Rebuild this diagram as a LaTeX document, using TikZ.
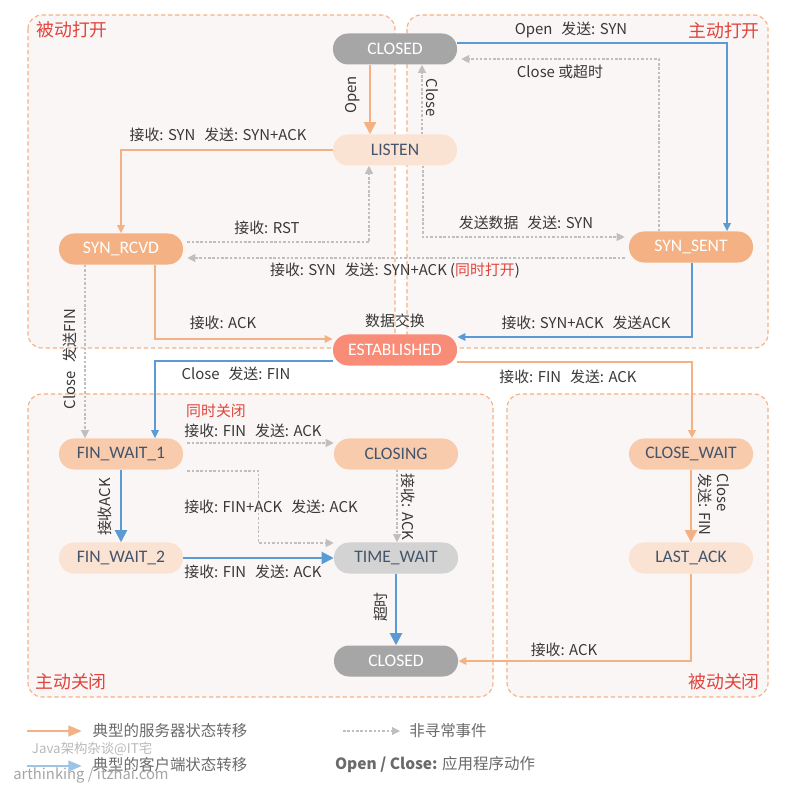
\documentclass[tikz,border=0pt]{standalone}
\usepackage{fontspec}
\setmainfont{Noto Sans CJK SC}
\newfontfamily\statefont{Carlito}
\usetikzlibrary{arrows.meta,calc}
\definecolor{srvorange}{HTML}{F4B183}
\definecolor{clientblue}{HTML}{5B9BD5}
\definecolor{legendblue}{HTML}{9DC3E6}
\definecolor{oddgray}{HTML}{BFBFBF}
\definecolor{deadgray}{HTML}{A6A6A6}
\definecolor{waitgray}{HTML}{D3D3D3}
\definecolor{palepeach}{HTML}{FBE3D4}
\definecolor{softpeach}{HTML}{F8CBAD}
\definecolor{livesalmon}{HTML}{F98C76}
\definecolor{regionfill}{HTML}{FAF6F5}
\definecolor{tagred}{HTML}{E0443C}
\definecolor{inktext}{HTML}{383838}
\definecolor{slatetext}{HTML}{44546A}
\newcommand{\lblgap}{\hspace{0.6em}}
\tikzset{
  state node/.style={rounded corners=0.38cm,minimum width=3.1cm,minimum height=0.775cm,inner sep=0pt,font=\statefont\fontsize{12.5}{14}\selectfont},
  dead state/.style={state node,fill=deadgray,text=white},
  warm state/.style={state node,fill=srvorange,text=white},
  live state/.style={state node,fill=livesalmon,text=white},
  soft state/.style={state node,fill=softpeach,text=slatetext},
  pale state/.style={state node,fill=palepeach,text=slatetext},
  wait state/.style={state node,fill=waitgray,text=slatetext},
  region/.style={draw=srvorange,fill=regionfill,line width=0.8pt,dash pattern=on 3pt off 2pt,rounded corners=0.35cm},
  region label/.style={text=tagred,font=\fontsize{12.7}{14}\selectfont,inner sep=0pt},
  edge label/.style={text=inktext,font=\fontsize{10.6}{12.5}\selectfont,inner sep=1pt},
  server edge/.style={srvorange,line width=1.5pt,-{Triangle[length=2mm,width=1.8mm]}},
  client edge/.style={clientblue,line width=1.5pt,-{Triangle[length=2mm,width=1.8mm]}},
  odd edge/.style={oddgray,line width=0.8pt,dash pattern=on 1.8pt off 1.3pt,-{Triangle[length=2mm,width=2mm]}},
  big head/.style={-{Triangle[length=3mm,width=3mm]}},
  legend text/.style={text=inktext!75,font=\fontsize{11}{13}\selectfont,inner sep=0pt},
  mark text/.style={text=gray!55,font=\fontsize{9.5}{11}\selectfont,inner sep=0pt},
}

\begin{document}
\begin{tikzpicture}[x=0.025cm,y=-0.025cm]
  \useasboundingbox (0,0) rectangle (800,786);
  \fill[white] (0,0) rectangle (800,786);

  \draw[region] (28,15) rectangle (395,348);
  \draw[region] (407,15) rectangle (768,348);
  \draw[region] (28,394) rectangle (493,697);
  \draw[region] (507,394) rectangle (768,697);
  \node[region label] (passiveopen) at (72,30) {被动打开};
  \node[region label] (activeopen) at (724,31) {主动打开};
  \node[region label] (activeclose) at (71,682) {主动关闭};
  \node[region label] (passiveclose) at (724,682) {被动关闭};

  \node[dead state] (closedtop) at (395,49) {CLOSED};
  \node[pale state] (listen) at (395,150) {LISTEN};
  \node[warm state] (synrcvd) at (121,249) {SYN\_RCVD};
  \node[warm state] (synsent) at (691,247) {SYN\_SENT};
  \node[live state] (estab) at (395,350) {ESTABLISHED};
  \node[soft state] (finwait1) at (121,454) {FIN\_WAIT\_1};
  \node[soft state] (closing) at (396,454) {CLOSING};
  \node[soft state] (closewait) at (691,454) {CLOSE\_WAIT};
  \node[pale state] (finwait2) at (121,558) {FIN\_WAIT\_2};
  \node[wait state] (timewait) at (396,558) {TIME\_WAIT};
  \node[pale state] (lastack) at (691,558) {LAST\_ACK};
  \node[dead state] (closedbot) at (396,661) {CLOSED};

  \draw[server edge,big head] ($(closedtop.south)+(-25,0)$) -- ($(listen.north)+(-25,0)$);
  \node[edge label,rotate=90] (lopen) at (353,95) {Open};
  \draw[odd edge] ($(listen.north)+(27,0)$) -- ($(closedtop.south)+(27,0)$);
  \node[edge label,rotate=-90] (lclose) at (432,98) {Close};
  \draw[client edge] ($(closedtop.east)+(0,-6)$) -| ($(synsent.north)+(36,0)$);
  \node[edge label] (lopensyn) at (571,30) {Open\lblgap 发送: SYN};
  \draw[odd edge] ($(synsent.north)+(-32,0)$) |- ($(closedtop.east)+(4,10)$);
  \node[edge label] (ltimeout) at (560,72) {Close 或超时};

  \draw[server edge] (listen.west) -| (synrcvd.north);
  \node[edge label] (lsynack) at (218,135) {接收: SYN\lblgap 发送: SYN+ACK};
  \draw[odd edge] ($(synrcvd.east)+(4,-7)$) -| ($(listen.south)+(-26,0)$);
  \node[edge label] (lrst) at (267,228) {接收: RST};
  \draw[odd edge] ($(listen.south)+(28,0)$) |- ($(synsent.west)+(-4,-10)$);
  \node[edge label] (lsenddata) at (526,223) {发送数据\lblgap 发送: SYN};
  \draw[odd edge] ($(synsent.west)+(-4,11)$) -- ($(synrcvd.east)+(4,9)$);
  \node[edge label] (lsimopen) at (395,271) {接收: SYN\lblgap 发送: SYN+ACK (\textcolor{tagred}{同时打开})};

  \draw[server edge] ($(synrcvd.south)+(34,0)$) |- ($(estab.west)+(0,-11)$);
  \node[edge label] (lack) at (223,323) {接收: ACK};
  \draw[client edge] ($(synsent.south)+(1,0)$) |- ($(estab.east)+(0,-13)$);
  \node[edge label] (lsynackack) at (586,323) {接收: SYN+ACK\lblgap 发送ACK};
  \node[edge label] (ldata) at (395,321) {数据交换};

  \draw[odd edge] ($(synrcvd.south)+(-36,0)$) -- ($(finwait1.north)+(-36,0)$);
  \node[edge label,rotate=90] (lclosefin) at (70,359) {Close\lblgap 发送FIN};
  \draw[client edge] ($(estab.west)+(0,11)$) -| ($(finwait1.north)+(34,0)$);
  \node[edge label] (lclosefin2) at (236,374) {Close\lblgap 发送: FIN};
  \draw[server edge] ($(estab.east)+(0,12)$) -| ($(closewait.north)+(1,0)$);
  \node[edge label] (lfinack) at (568,377) {接收: FIN\lblgap 发送: ACK};

  \draw[odd edge] ($(finwait1.east)+(4,-11)$) -- ($(closing.west)+(0,-11)$);
  \node[edge label,text=tagred] (lsimclose) at (216,411) {同时关闭};
  \node[edge label] (lfinack2) at (253,431) {接收: FIN\lblgap 发送: ACK};
  \draw[odd edge] ($(finwait1.east)+(4,17)$) -| ($(timewait.west)+(-75,-15)$) -- ($(timewait.west)+(0,-15)$);
  \node[edge label] (lfinackack) at (271,507) {接收: FIN+ACK\lblgap 发送: ACK};
  \draw[client edge,big head] (finwait1) -- (finwait2);
  \node[edge label,rotate=90] (lrecvack) at (105,507) {接收ACK};
  \draw[client edge,big head] (finwait2) -- (timewait);
  \node[edge label] (lfinack3) at (253,572) {接收: FIN\lblgap 发送: ACK};
  \draw[odd edge] ($(closing.south)+(1,0)$) -- ($(timewait.north)+(1,0)$);
  \node[edge label,rotate=-90] (lack2) at (408,507) {接收: ACK};
  \draw[client edge,big head] (timewait) -- (closedbot);
  \node[edge label,rotate=90] (ltimeout2) at (381,607) {超时};

  \draw[server edge,big head] (closewait) -- (lastack);
  \node[edge label,rotate=-90,anchor=west,align=left] (lclosefin3) at (714,472) {Close\\发送: FIN};
  \draw[server edge] (lastack.south) |- (closedbot.east);
  \node[edge label] (lack3) at (564,650) {接收: ACK};

  \coordinate (srvfrom) at (27,731);
  \coordinate (srvto) at (82,731);
  \coordinate (clifrom) at (27,766);
  \coordinate (clito) at (82,766);
  \coordinate (oddfrom) at (343,731);
  \coordinate (oddto) at (400,731);
  \draw[srvorange,line width=2pt,-{Triangle[length=3.4mm,width=2.6mm]}] (srvfrom) -- (srvto);
  \draw[legendblue,line width=2pt,-{Triangle[length=3.4mm,width=2.6mm]}] (clifrom) -- (clito);
  \draw[odd edge] (oddfrom) -- (oddto);
  \node[legend text] (lgsrv) at (170,731) {典型的服务器状态转移};
  \node[legend text] (lgcli) at (170,765) {典型的客户端状态转移};
  \node[legend text] (lgodd) at (448,731) {非寻常事件};
  \node[legend text] (lgapp) at (435,765) {\textbf{Open / Close:} 应用程序动作};
  \node[mark text] (wmark1) at (92,749) {Java架构杂谈@IT宅};
  \node[mark text,text=gray!70,font=\fontsize{10.5}{12}\selectfont] (wmark2) at (91,775) {arthinking / itzhai.com};
\end{tikzpicture}
\end{document}
